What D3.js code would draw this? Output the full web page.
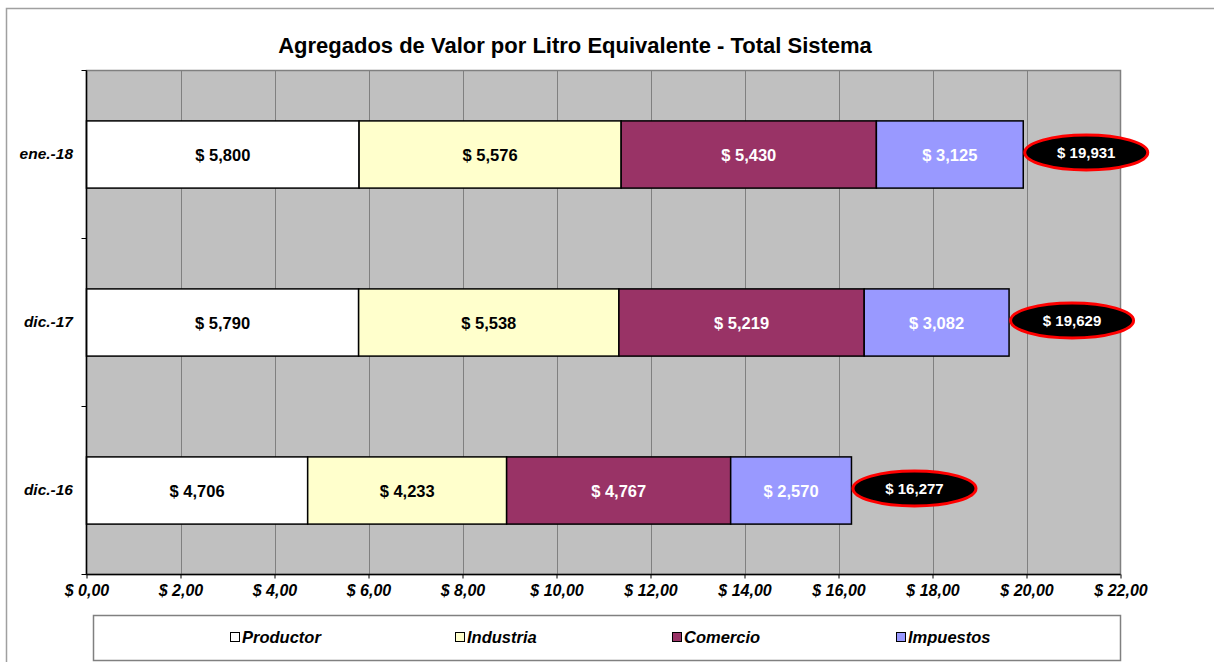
<!DOCTYPE html>
<html><head><meta charset="utf-8">
<script src="https://cdn.jsdelivr.net/npm/d3@7"></script>
<style>body{margin:0;background:#fff;}svg{display:block;font-family:"Liberation Sans",Arial,sans-serif;}</style>
</head><body>
<svg id="c" width="1214" height="662"></svg>
<script>
const categories = ["ene.-18", "dic.-17", "dic.-16"];
const seriesNames = ["Productor", "Industria", "Comercio", "Impuestos"];
const productor = [5.800, 5.790, 4.706];
const industria = [5.576, 5.538, 4.233];
const comercio = [5.430, 5.219, 4.767];
const impuestos = [3.125, 3.082, 2.570];
const totals = [19.931, 19.629, 16.277];
const xTicks = [0,2,4,6,8,10,12,14,16,18,20,22];
const colors = ["#FFFFFF", "#FFFFCC", "#993366", "#9999FF"];
const labelColors = ["#000", "#000", "#fff", "#fff"];

const svg = d3.select("#c");
const M = {left:86.5, right:1120.5, top:70.5, bottom:574.5};
const x = d3.scaleLinear().domain([0,22]).range([M.left, M.right]);
const y = d3.scaleBand().domain(categories).range([M.top, M.bottom]).paddingInner(0.6).paddingOuter(0.3);
const yb = d3.scaleBand().domain(categories).range([M.top, M.bottom]);

// outer chart border
svg.append("rect").attr("x",6.5).attr("y",8.5).attr("width",1230).attr("height",700)
  .attr("fill","#fff").attr("stroke","#a0a0a0").attr("stroke-width",1.5);

// title
svg.append("text").attr("x",575).attr("y",53).attr("text-anchor","middle")
  .attr("font-size",22).attr("font-weight","bold").text("Agregados de Valor por Litro Equivalente - Total Sistema");

// plot area
svg.append("rect").attr("x",M.left).attr("y",M.top).attr("width",M.right-M.left).attr("height",M.bottom-M.top)
  .attr("fill","#C0C0C0").attr("stroke","#808080").attr("stroke-width",1.5);

// gridlines
svg.append("g").selectAll("line").data(xTicks.slice(1,-1)).join("line")
  .attr("x1",d=>Math.round(x(d))+0.5).attr("x2",d=>Math.round(x(d))+0.5)
  .attr("y1",M.top).attr("y2",M.bottom).attr("stroke","#808080").attr("stroke-width",1);

// stacked data
const rows = categories.map((c,i)=>({cat:c, Productor:productor[i], Industria:industria[i], Comercio:comercio[i], Impuestos:impuestos[i]}));
const stack = d3.stack().keys(seriesNames)(rows);
const fmt = v => "$ " + v.toFixed(3).replace(".", ",");

stack.forEach((s,si)=>{
  const g = svg.append("g");
  g.selectAll("rect").data(s).join("rect")
    .attr("x",d=>x(d[0])).attr("width",d=>x(d[1])-x(d[0]))
    .attr("y",d=>y(d.data.cat)).attr("height",y.bandwidth())
    .attr("fill",colors[si]).attr("stroke","#000").attr("stroke-width",1.5);
  g.selectAll("text").data(s).join("text")
    .attr("x",d=>(x(d[0])+x(d[1]))/2).attr("y",d=>y(d.data.cat)+y.bandwidth()/2+6)
    .attr("text-anchor","middle").attr("font-size",16.5).attr("font-weight","bold")
    .attr("fill",labelColors[si]).text(d=>fmt(d.data[seriesNames[si]]));
});

// total ellipses
const tg = svg.append("g");
categories.forEach((c,i)=>{
  const ex = x(d3.sum([productor[i],industria[i],comercio[i],impuestos[i]])) + 63;
  const ey = y(c)+y.bandwidth()/2 - 2;
  tg.append("ellipse").attr("cx",ex).attr("cy",ey).attr("rx",61.5).attr("ry",17.5)
    .attr("fill","#000").attr("stroke","#FF0000").attr("stroke-width",3);
  tg.append("text").attr("x",ex).attr("y",ey+5.5).attr("text-anchor","middle")
    .attr("font-size",15).attr("font-weight","bold").attr("fill","#fff")
    .text(fmt(totals[i]));
});

// x axis
const xAxis = d3.axisBottom(x).tickValues(xTicks).tickSize(5).tickFormat(d=>"$ " + d.toFixed(2).replace(".",","));
const xg = svg.append("g").attr("transform",`translate(0,${M.bottom})`).call(xAxis);
xg.select(".domain").attr("stroke","#000").attr("stroke-width",1.5).attr("d",`M${M.left},0H${M.right}`);
xg.selectAll(".tick line").attr("stroke","#000").attr("y1",0).attr("y2",4);
xg.selectAll(".tick text").attr("font-size",16).attr("font-weight","bold").attr("font-style","italic")
  .attr("fill","#000").attr("y",10).attr("font-family","Liberation Sans, Arial, sans-serif");

// y axis
const yAxis = d3.axisLeft(yb).tickSize(0).tickPadding(13.5);
const yg = svg.append("g").attr("transform",`translate(${M.left},0)`).call(yAxis);
yg.select(".domain").attr("stroke","#000").attr("stroke-width",1.5).attr("d",`M0,${M.top}V${M.bottom}`);
yg.selectAll(".tick text").attr("font-size",15.5).attr("font-weight","bold").attr("font-style","italic")
  .attr("fill","#000").attr("font-family","Liberation Sans, Arial, sans-serif");
// band boundary ticks
const bounds = [M.top, ...categories.map(c=>yb(c)+yb.bandwidth())];
svg.append("g").selectAll("line").data(bounds).join("line")
  .attr("x1",M.left-5).attr("x2",M.left).attr("y1",d=>d).attr("y2",d=>d).attr("stroke","#000");

// legend
svg.append("rect").attr("x",93.5).attr("y",615.5).attr("width",1027).attr("height",45)
  .attr("fill","#fff").attr("stroke","#808080").attr("stroke-width",1.5);
const legX = [230, 455, 672, 896];
const lg = svg.append("g");
seriesNames.forEach((n,i)=>{
  lg.append("rect").attr("x",legX[i]+0.5).attr("y",632.5).attr("width",9).attr("height",9)
    .attr("fill",colors[i]).attr("stroke","#000").attr("stroke-width",1);
  lg.append("text").attr("x",legX[i]+12).attr("y",643).attr("font-size",16.5)
    .attr("font-weight","bold").attr("font-style","italic").text(n);
});
</script>
</body></html>
